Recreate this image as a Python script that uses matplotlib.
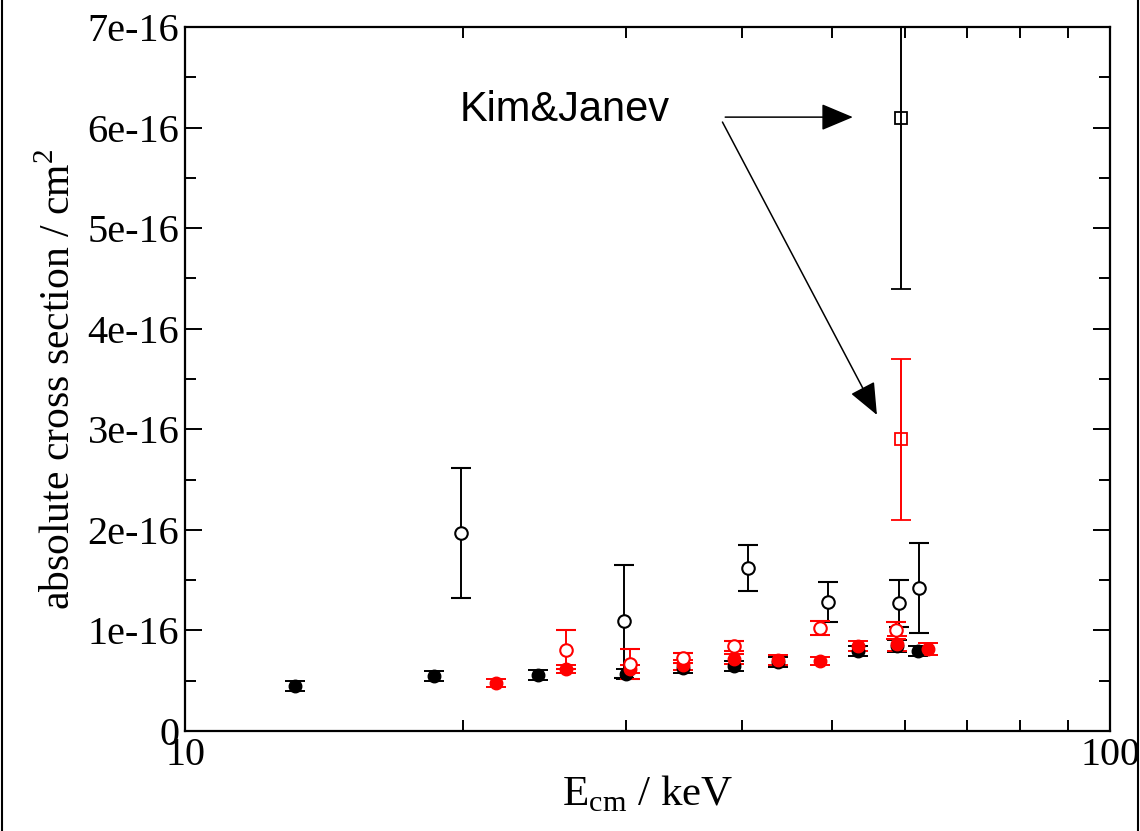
import matplotlib
matplotlib.use('Agg')
import matplotlib.pyplot as plt
import numpy as np
from matplotlib.ticker import FuncFormatter, FixedLocator, MultipleLocator
from matplotlib.patches import Rectangle

plt.rcParams['font.family'] = 'Liberation Serif'
plt.rcParams['mathtext.fontset'] = 'custom'
plt.rcParams['mathtext.rm'] = 'Liberation Serif'

# cross sections in units of 1e-16 cm^2
# black, filled circles
e_bk_fill = [13.15, 18.6, 24.1, 30.0, 34.5, 39.2, 43.8, 53.4, 58.8, 62.0]
s_bk_fill = [0.45, 0.55, 0.56, 0.57, 0.63, 0.65, 0.69, 0.80, 0.85, 0.80]
d_bk_fill = [0.05, 0.05, 0.05, 0.05, 0.05, 0.05, 0.05, 0.05, 0.06, 0.05]

# red, filled circles
e_rd_fill = [21.7, 25.8, 30.3, 34.5, 39.2, 43.8, 48.6, 53.4, 58.8, 63.6]
s_rd_fill = [0.48, 0.62, 0.62, 0.66, 0.72, 0.71, 0.70, 0.85, 0.87, 0.82]
d_rd_fill = [0.04, 0.04, 0.04, 0.05, 0.05, 0.05, 0.04, 0.05, 0.07, 0.06]

# black, open circles
e_bk_open = [19.9, 29.8, 40.6, 49.6, 59.1, 62.2]
s_bk_open = [1.97, 1.09, 1.62, 1.28, 1.27, 1.42]
d_bk_open = [0.645, 0.565, 0.225, 0.20, 0.235, 0.45]

# red, open circles
e_rd_open = [25.8, 30.3, 34.5, 39.2, 48.6, 58.7]
s_rd_open = [0.81, 0.67, 0.73, 0.85, 1.02, 1.00]
d_rd_open = [0.19, 0.15, 0.05, 0.05, 0.07, 0.08]

# Kim & Janev
e_kj = [59.4]
s_kj_bk = [6.1]
d_kj_bk = [1.7]
s_kj_rd = [2.9]
d_kj_rd = [0.8]

scale = 1e-16

fig = plt.figure(figsize=(11.4, 8.31), dpi=100)
ax = fig.add_axes([0.1623, 0.1203, 0.8114, 0.8472])

ebar = dict(linestyle='none', capsize=7, elinewidth=1.4, capthick=1.4, zorder=3)

ax.errorbar(e_bk_fill, np.array(s_bk_fill) * scale, yerr=np.array(d_bk_fill) * scale,
            fmt='o', color='black', ms=9, **ebar)
ax.errorbar(e_rd_fill, np.array(s_rd_fill) * scale, yerr=np.array(d_rd_fill) * scale,
            fmt='o', color='red', ms=9, **ebar)
ax.errorbar(e_bk_open, np.array(s_bk_open) * scale, yerr=np.array(d_bk_open) * scale,
            fmt='o', color='black', mfc='white', mew=1.5, ms=9, **ebar)
ax.errorbar(e_rd_open, np.array(s_rd_open) * scale, yerr=np.array(d_rd_open) * scale,
            fmt='o', color='red', mfc='white', mew=1.5, ms=9, **ebar)
ax.errorbar(e_kj, np.array(s_kj_bk) * scale, yerr=np.array(d_kj_bk) * scale,
            fmt='s', color='black', mfc='none', mew=1.3, ms=9, **ebar)
ax.errorbar(e_kj, np.array(s_kj_rd) * scale, yerr=np.array(d_kj_rd) * scale,
            fmt='s', color='red', mfc='none', mew=1.3, ms=9, **ebar)

ax.set_xscale('log')
ax.set_xlim(10, 100)
ax.set_ylim(0, 7e-16)

ax.xaxis.set_major_locator(FixedLocator([10, 100]))
ax.xaxis.set_minor_locator(FixedLocator([20, 30, 40, 50, 60, 70, 80, 90]))
ax.xaxis.set_major_formatter(FuncFormatter(lambda v, p: f'{v:.0f}'))
ax.xaxis.set_minor_formatter(FuncFormatter(lambda v, p: ''))
ax.yaxis.set_major_locator(MultipleLocator(1e-16))
ax.yaxis.set_minor_locator(MultipleLocator(0.5e-16))
ax.yaxis.set_major_formatter(FuncFormatter(
    lambda v, p: '0' if abs(v) < 1e-20 else f'{v / 1e-16:.0f}e-16'))

ax.tick_params(which='both', direction='in', top=True, right=True,
               labelsize=29, width=1.4)
ax.tick_params(which='major', length=12, pad=4)
ax.tick_params(which='minor', length=8)
for sp in ax.spines.values():
    sp.set_linewidth(1.6)

ax.set_xlabel('E$_{\\rm cm}$ / keV', fontsize=31, labelpad=0)
ax.set_ylabel('absolute cross section / cm$^{2}$', fontsize=30, labelpad=6)

# labels pointing at the two Kim&Janev points
ax.text(0.297, 0.882, 'Kim&Janev', transform=ax.transAxes, fontsize=30,
        family='Liberation Sans', ha='left', va='center')
arrow = dict(arrowstyle='-|>,head_length=1.0,head_width=0.42', mutation_scale=20,
             color='black', lw=1.1, shrinkA=0, shrinkB=0)
ax.annotate('', xy=(0.722, 0.872), xytext=(0.584, 0.872),
            xycoords='axes fraction', textcoords='axes fraction', arrowprops=arrow)
ax.annotate('', xy=(0.748, 0.449), xytext=(0.581, 0.865),
            xycoords='axes fraction', textcoords='axes fraction', arrowprops=arrow)

fig.patches.append(Rectangle((0.002, -0.01), 0.996, 1.02, transform=fig.transFigure,
                             fill=False, edgecolor='black', lw=1.5))

fig.savefig('out.png', dpi=100)
